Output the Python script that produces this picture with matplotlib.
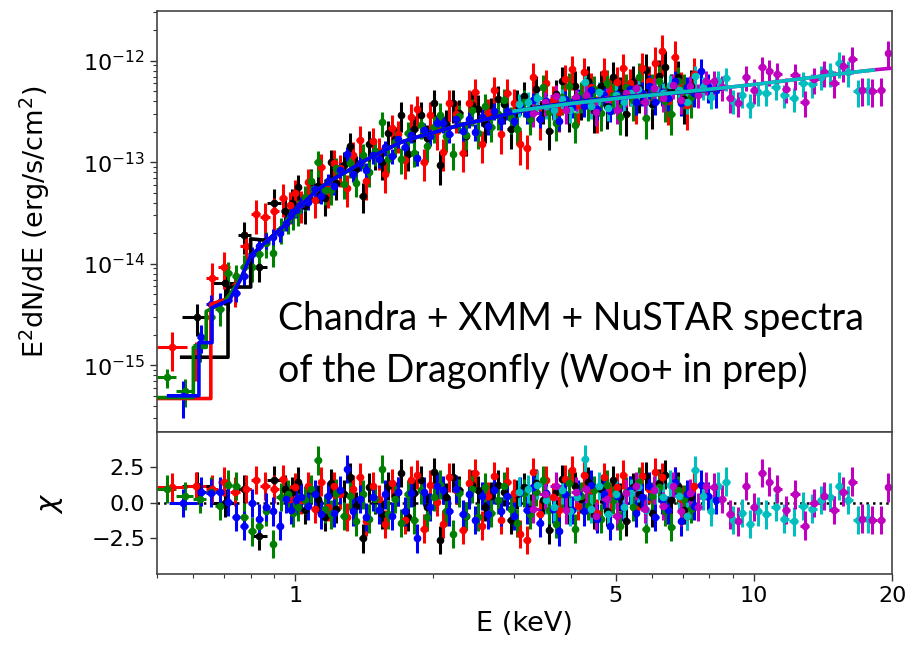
import numpy as np
import matplotlib.pyplot as plt
from matplotlib.ticker import NullFormatter, FixedLocator

UNIT = 1e-13  # fluxes below are in units of 1e-13 erg/s/cm^2, errors in % of flux

# bin grids (keV) shared by the soft-band spectra above 1 keV
grid_a = [1.00, 1.03, 1.07, 1.10, 1.14, 1.18, 1.21, 1.25, 1.30, 1.34, 1.38, 1.43, 1.47, 1.52, 1.57,
          1.62, 1.68, 1.73, 1.79, 1.85, 1.91, 1.97, 2.04, 2.10, 2.17, 2.24, 2.32, 2.39, 2.47, 2.55,
          2.63, 2.72, 2.81, 2.90, 3.00, 3.10, 3.20, 3.30, 3.41, 3.52, 3.64, 3.76, 3.88, 4.01, 4.14,
          4.27, 4.41, 4.56, 4.71, 4.86, 5.02, 5.19, 5.36, 5.53, 5.71, 5.90, 6.10, 6.30, 6.50, 6.72,
          6.94, 7.16, 7.40]
grid_b = [1.015, 1.05, 1.085, 1.12, 1.16, 1.195, 1.235, 1.275, 1.315, 1.36, 1.405, 1.45, 1.50, 1.545,
          1.595, 1.65, 1.705, 1.76, 1.82, 1.875, 1.94, 2.00, 2.07, 2.135, 2.205, 2.28, 2.355, 2.43,
          2.51, 2.59, 2.675, 2.765, 2.855, 2.95, 3.045, 3.145, 3.25, 3.355, 3.465, 3.58, 3.70, 3.82,
          3.945, 4.075, 4.205, 4.34, 4.485, 4.635, 4.785, 4.94, 5.105, 5.275, 5.445, 5.62, 5.805,
          6.00, 6.20, 6.40, 6.61, 6.83, 7.05, 7.28, 7.52]

# ---- black ----
black_edges = [0.566, 0.66, 0.75, 0.80, 0.87, 0.93, 0.97] + grid_a
black_flux = [0.030, 0.065, 0.19, 0.094, 0.40, 0.33, 0.40,
              0.565, 0.37, 0.64, 0.59, 0.44, 1.00, 0.63, 0.94, 1.46, 0.86,
              0.47, 1.52, 1.25, 1.00, 1.94, 1.69, 2.95, 1.22, 2.14, 2.95,
              1.72, 3.80, 0.94, 2.41, 3.82, 3.04, 1.82, 3.67, 3.35, 2.40,
              3.17, 4.19, 3.72, 2.13, 3.78, 4.52, 2.98, 5.24, 3.73, 2.05,
              4.67, 6.28, 3.30, 5.61, 4.36, 6.37, 3.25, 5.64, 3.56, 6.97,
              4.93, 3.01, 6.24, 5.46, 8.14, 3.77, 7.14, 8.66, 5.11, 6.98,
              4.24, 5.64]
black_err = [35, 40, 35, 30, 35, 35, 35,
             33, 33, 33, 33, 33, 33, 33, 33, 33, 33,
             33, 33, 33, 33, 33, 33, 33, 33, 33, 33,
             36, 36, 36, 36, 36, 36, 36, 36, 36, 36,
             36, 36, 36, 36, 36, 36, 36, 36, 36, 36,
             40, 40, 40, 40, 40, 40, 40, 40, 40, 40,
             40, 40, 44, 44, 44, 44, 44, 44, 44, 44,
             44, 44]
black_chi = [1.2, 0.0, 1.0, -2.3, 1.6, 1.0, 0.8,
             1.5, -0.5, 0.9, 0.3, -1.0, 1.4, -0.4, 0.6, 1.8, -0.2,
             -2.5, 1.1, 0.2, -0.8, 1.2, 0.5, 2.1, -1.0, 0.7, 1.6,
             -0.3, 2.2, -2.6, 0.4, 1.8, 0.9, -0.9, 1.3, 0.9, -0.3,
             0.5, 1.3, 0.8, -1.2, 0.6, 1.1, -0.4, 1.4, 0.2, -1.9,
             0.8, 1.7, -0.5, 1.2, 0.3, 1.5, -0.8, 1.0, -0.6, 1.6,
             0.4, -1.3, 1.1, 0.6, 1.9, -0.7, 1.4, 2.0, 0.2, 1.2,
             -0.5, 0.4]

# ---- red ----
red_edges = [0.50, 0.58, 0.64, 0.68, 0.72, 0.76, 0.80, 0.84, 0.88, 0.92, 0.96, 0.985] + grid_b
red_flux = [0.015, 0.012, 0.073, 0.094, 0.060, 0.15, 0.31, 0.29, 0.33, 0.45, 0.38, 0.50,
            0.385, 0.64, 0.43, 0.89, 0.55, 0.98, 0.87, 0.56, 1.18, 1.67,
            0.65, 1.62, 1.30, 0.77, 2.16, 1.90, 1.05, 2.81, 3.36, 1.00,
            2.91, 2.03, 1.25, 3.86, 3.00, 1.23, 3.82, 4.96, 1.51, 3.12,
            5.11, 1.90, 4.81, 3.83, 1.51, 1.37, 6.93, 2.66, 5.98, 4.10,
            3.13, 6.58, 8.22, 3.68, 7.72, 5.48, 3.25, 7.57, 4.83, 6.19,
            8.41, 5.98, 3.95, 8.51, 6.39, 9.63, 12.5, 4.05, 11.0, 5.37,
            3.65, 7.44]
red_err = [42, 42, 40, 40, 38, 38, 36, 36, 36, 36, 35, 35,
           35, 35, 35, 35, 35, 35, 35, 35, 35, 35,
           35, 35, 35, 35, 35, 35, 35, 35, 35, 35,
           35, 35, 35, 35, 35, 35, 35, 35, 35, 35,
           37, 37, 37, 37, 37, 37, 37, 37, 37, 37,
           37, 37, 37, 37, 37, 40, 40, 40, 40, 40,
           40, 40, 40, 40, 40, 43, 43, 43, 43, 43,
           43, 43]
red_chi = [1.1, 1.2, 1.0, 1.5, 0.8, 1.0, 1.6, 1.2, 1.0, 1.7, 0.3, 1.1,
           0.2, 1.2, -0.4, 1.5, -0.3, 1.2, 0.6, -1.0, 1.0, 1.8,
           -1.3, 1.2, 0.3, -1.5, 1.4, 0.8, -1.2, 1.6, 2.0, -1.8,
           1.3, 0.1, -1.5, 1.8, 0.9, -1.9, 1.4, 2.1, -1.6, 0.5,
           1.9, -1.2, 1.5, 0.7, -2.2, -2.6, 2.2, -0.8, 1.6, 0.4,
           -0.5, 1.7, 2.3, -0.2, 2.0, 0.9, -0.7, 1.8, 0.4, 1.1,
           2.0, 0.9, -0.4, 1.9, 1.0, 2.2, 1.8, -0.5, 1.5, 0.3,
           -0.9, 1.2]

# ---- green ----
green_edges = [0.50, 0.55, 0.60, 0.64, 0.67, 0.70, 0.73, 0.76, 0.79, 0.82, 0.85, 0.88, 0.91,
               0.95, 0.975] + grid_a
green_flux = [0.0076, 0.0056, 0.016, 0.030, 0.036, 0.081, 0.075, 0.094, 0.092, 0.125,
              0.160, 0.128, 0.22, 0.27, 0.30,
              0.33, 0.46, 0.65, 1.00, 0.53, 0.53, 0.87, 0.61, 0.98, 0.63,
              1.18, 0.80, 1.29, 2.47, 1.09, 1.59, 1.07, 1.95, 1.24, 2.35,
              1.44, 2.21, 2.95, 1.81, 1.20, 2.83, 1.87, 3.27, 1.95, 3.59,
              2.24, 3.00, 4.10, 2.71, 2.14, 3.97, 2.68, 4.31, 5.53, 3.13,
              2.43, 4.44, 5.68, 2.35, 4.60, 3.86, 5.31, 3.05, 6.11, 4.56,
              2.79, 5.54, 4.13, 6.92, 2.76, 5.35, 6.39, 4.05, 2.99, 6.30,
              5.37, 4.44]
green_err = [22, 30, 32, 32, 32, 30, 30, 30, 28, 28, 28, 28, 28, 28, 28,
             28, 28, 28, 28, 28, 28, 28, 28, 28, 28,
             28, 28, 28, 28, 28, 28, 28, 28, 28, 28,
             30, 30, 30, 30, 30, 30, 30, 30, 30, 30,
             30, 30, 30, 30, 30, 30, 30, 30, 30, 30,
             34, 34, 34, 34, 34, 34, 34, 34, 34, 34,
             34, 34, 38, 38, 38, 38, 38, 38, 38, 38,
             38, 38]
green_chi = [1.0, 0.5, 0.3, 0.8, -0.2, 1.3, 1.2, -1.0, -2.0, -1.6, -0.6, -2.9, 0.4, 0.6, -0.7,
             -0.3, 0.2, 1.0, 3.0, -0.4, -0.8, 0.7, -0.9, 0.5, -1.3,
             0.6, -1.1, 0.3, 2.4, -0.8, 0.3, -1.4, 0.6, -1.2, 0.9,
             -1.0, 0.4, 1.3, -0.6, -2.2, 0.7, -0.9, 1.0, -1.0, 1.1,
             -0.7, 0.2, 1.2, -0.4, -1.4, 0.7, -0.8, 0.8, 1.6, -0.5,
             -1.5, 0.6, 1.4, -1.8, 0.5, -0.2, 0.9, -1.1, 1.3, 0.2,
             -1.6, 0.8, -0.3, 1.5, -1.8, 0.5, 1.1, -0.6, -1.7, 0.9,
             0.3, -0.4]

# ---- blue ----
blue_edges = [0.53, 0.61, 0.64, 0.67, 0.70, 0.73, 0.76, 0.79, 0.82, 0.85, 0.88, 0.91, 0.94,
              0.97, 0.99] + grid_b + [7.80, 8.10, 8.40]
blue_flux = [0.0050, 0.019, 0.040, 0.042, 0.044, 0.052, 0.075, 0.125, 0.150, 0.170,
             0.185, 0.200, 0.255, 0.305, 0.34,
             0.385, 0.41, 0.54, 0.47, 0.65, 0.58, 0.84, 1.20, 0.77, 0.98,
             0.84, 1.17, 1.07, 1.40, 1.16, 1.68, 1.41, 1.86, 1.11, 2.09,
             1.80, 2.44, 2.42, 1.92, 2.66, 2.02, 2.66, 2.01, 2.79, 2.30,
             3.22, 2.55, 3.19, 2.58, 3.62, 2.96, 4.09, 2.69, 3.98, 3.35,
             2.58, 4.17, 3.49, 4.35, 3.60, 5.12, 3.38, 4.64, 3.18, 4.69,
             4.14, 5.23, 3.95, 4.87, 5.70, 3.91, 4.89, 4.33, 6.31, 3.86,
             5.47, 4.79,
             8.0, 5.6, 5.2]
blue_err = [40, 30, 24, 22, 22, 20, 20, 18, 18, 18, 18, 18, 17, 17, 17,
            17, 17, 17, 17, 17, 17, 17, 17, 17, 17,
            17, 17, 17, 17, 17, 17, 17, 17, 17, 17,
            19, 19, 19, 19, 19, 19, 19, 19, 19, 19,
            19, 19, 19, 19, 19, 19, 19, 19, 19, 19,
            22, 22, 22, 22, 22, 22, 22, 22, 22, 22,
            22, 22, 26, 26, 26, 26, 26, 26, 26, 26,
            26, 26,
            30, 32, 34]
blue_chi = [0.0, 0.8, 0.7, 0.8, 0.1, -1.0, -1.6, 0.0, -1.1, -0.3, -0.6, -1.6, 0.3, -0.5, 0.2,
            0.4, -0.2, 0.6, -0.8, 0.5, -0.7, 0.9, 2.4, -0.6, 0.3,
            -1.0, 0.4, -0.5, 0.6, -0.9, 0.8, -0.6, 0.7, -2.5, 0.8,
            -0.3, 1.2, 0.9, -0.6, 1.0, -0.8, 0.6, -1.2, 0.5, -0.8,
            0.9, -0.6, 0.5, -0.9, 0.8, -0.5, 1.1, -1.4, 0.7, -0.4,
            -2.0, 0.6, -0.5, 0.6, -0.6, 1.3, -1.1, 0.6, -1.6, 0.5,
            -0.3, 0.9, -0.7, 0.4, 1.2, -1.0, 0.2, -0.5, 1.5, -1.3,
            0.6, -0.2,
            1.3, 0.5, 0.2]

# ---- cyan ----
cyan_edges = [3.0, 3.15, 3.3, 3.45, 3.6, 3.75, 3.9, 4.05, 4.2, 4.35, 4.5, 4.7, 4.9, 5.1, 5.3,
              5.5, 5.7, 5.95, 6.2, 6.45, 6.7, 7.0, 7.3, 7.6, 7.9, 8.2, 8.5, 8.85, 9.2, 9.6,
              10.0, 10.4, 10.9, 11.4, 11.9, 12.5, 13.1, 13.7, 14.3, 15.0, 15.7, 16.4, 17.3, 18.2]
cyan_flux = [3.75, 3.95, 4.30, 3.60, 3.30, 4.25, 3.25, 4.05, 6.20, 3.55,
             4.90, 3.40, 4.60, 3.90, 4.80, 5.25, 3.90, 5.25, 4.85, 5.80,
             5.15, 3.95, 7.10, 5.50, 4.45, 6.40, 6.80, 4.05, 4.60, 3.70,
             4.90, 4.80, 5.50, 4.60, 4.30, 6.05, 5.90, 7.00, 7.55, 9.50,
             7.70, 5.00, 5.20]
cyan_err = [25, 25, 25, 25, 25, 25, 25, 25, 25, 25,
            25, 25, 25, 25, 25, 25, 25, 25, 25, 25,
            25, 25, 25, 25, 25, 25, 25, 26, 26, 26,
            26, 26, 26, 26, 27, 27, 27, 27, 27, 28,
            28, 30, 30]
cyan_chi = [0.8, 1.0, 1.3, 0.2, -0.3, 0.9, -0.6, 0.4, 3.1, -0.4,
            1.2, -0.8, 0.6, -0.3, 0.7, 1.1, -0.5, 0.9, 0.4, 1.3,
            0.5, -0.9, 2.3, 0.5, -0.6, 1.2, 1.5, -1.2, -0.7, -1.5,
            -0.6, -0.8, -0.3, -1.1, -1.3, -0.2, -0.4, 0.2, 0.4, 1.2,
            0.2, -1.2, -1.1]

# ---- magenta ----
mag_edges = [3.2, 3.4, 3.6, 3.8, 4.0, 4.2, 4.4, 4.65, 4.9, 5.15, 5.4, 5.65, 5.9, 6.2, 6.5,
             6.8, 7.1, 7.4, 7.7, 8.0, 8.35, 8.7, 9.05, 9.4, 9.8, 10.2, 10.6, 11.0, 11.5, 12.0,
             12.6, 13.2, 13.9, 14.6, 15.3, 16.0, 16.8, 17.6, 18.5, 19.3, 19.9]
mag_flux = [3.05, 3.90, 4.50, 3.25, 4.40, 4.65, 3.15, 4.25, 3.30, 4.80,
            5.40, 3.95, 5.35, 4.30, 5.80, 4.10, 5.60, 4.65, 6.30, 6.30,
            5.55, 4.30, 3.85, 7.00, 5.20, 8.60, 7.90, 7.40, 5.30, 7.20,
            3.90, 6.60, 7.70, 6.10, 8.80, 10.5, 5.20, 5.10, 5.20, 12.0]
mag_err = [27, 27, 27, 27, 27, 27, 27, 27, 27, 27,
           27, 27, 27, 27, 27, 27, 27, 27, 27, 27,
           27, 28, 28, 28, 28, 28, 28, 28, 28, 29,
           29, 29, 29, 29, 30, 30, 31, 31, 31, 31]
mag_chi = [-0.4, 0.6, 1.2, -0.5, 0.8, 1.0, -0.9, 0.3, -0.9, 0.7,
           1.2, -0.4, 0.9, -0.2, 1.2, -0.6, 0.7, -0.3, 1.2, 1.1,
           0.3, -0.8, -1.3, 1.2, -0.3, 2.1, 1.5, 1.0, -0.5, 0.6,
           -1.6, 0.0, 0.5, -0.5, 0.8, 1.5, -1.1, -1.2, -1.2, 1.1]

# ---- model curves (same units) ----
soft_mod_e = [0.76, 0.80, 0.87, 0.94, 1.02, 1.11, 1.2, 1.3, 1.43, 1.56, 1.69, 1.85, 2.0,
              2.3, 2.6, 3.0, 3.4, 4.2, 5.2, 6.6, 8.4]
soft_mod_f = [0.07, 0.12, 0.17, 0.23, 0.36, 0.52, 0.67, 0.82, 1.06, 1.30, 1.56, 1.78, 1.96,
              2.35, 2.65, 3.1, 3.5, 4.0, 4.4, 4.8, 5.25]
black_mod_e = [0.566, 0.714, 0.714, 0.80, 0.80] + soft_mod_e[2:]
black_mod_f = [0.012, 0.012, 0.059, 0.059, 0.176] + soft_mod_f[2:]
red_mod_e = [0.50, 0.655, 0.655, 0.72] + soft_mod_e
red_mod_f = [0.0047, 0.0047, 0.040, 0.046] + soft_mod_f
green_mod_e = [0.50, 0.60, 0.60, 0.64, 0.64, 0.70] + soft_mod_e
green_mod_f = [0.0048, 0.0048, 0.015, 0.015, 0.034, 0.042] + soft_mod_f
blue_mod_e = [0.53, 0.617, 0.617, 0.659, 0.659, 0.72] + soft_mod_e
blue_mod_f = [0.0050, 0.0050, 0.0167, 0.0167, 0.037, 0.044] + soft_mod_f
cyan_mod_e = [3.0, 3.5, 4.0, 5.0, 6.0, 7.0, 8.0, 9.0, 10.0, 11.0, 12.0, 13.0, 14.0, 15.0, 16.0, 17.0, 18.2]
cyan_mod_f = [3.2, 3.5, 3.8, 4.25, 4.6, 4.95, 5.25, 5.55, 5.85, 6.15, 6.45, 6.75, 7.05, 7.35, 7.6, 7.85, 8.1]
mag_mod_e = [3.2, 4.0, 5.0, 6.0, 7.0, 8.0, 9.0, 10.0, 11.0, 12.0, 13.0, 14.0, 15.0, 16.0, 17.0, 18.5, 19.9]
mag_mod_f = [3.3, 3.8, 4.25, 4.6, 4.95, 5.25, 5.55, 5.85, 6.15, 6.45, 6.75, 7.05, 7.35, 7.6, 7.85, 8.2, 8.45]

# (edges, flux, err, chi, colour)
datasets = [
    (black_edges, black_flux, black_err, black_chi, 'k'),
    (red_edges, red_flux, red_err, red_chi, 'r'),
    (green_edges, green_flux, green_err, green_chi, 'g'),
    (blue_edges, blue_flux, blue_err, blue_chi, 'b'),
    (cyan_edges, cyan_flux, cyan_err, cyan_chi, 'c'),
    (mag_edges, mag_flux, mag_err, mag_chi, 'm'),
]
# models sit on top of the data; cyan drawn over magenta
models = [
    (black_mod_e, black_mod_f, 'k'),
    (red_mod_e, red_mod_f, 'r'),
    (green_mod_e, green_mod_f, 'g'),
    (blue_mod_e, blue_mod_f, 'b'),
    (mag_mod_e, mag_mod_f, 'm'),
    (cyan_mod_e, cyan_mod_f, 'c'),
]

fig = plt.figure(figsize=(9.14, 6.46), dpi=100)
ax = fig.add_axes([0.1718, 0.3313, 0.8042, 0.6517])
axr = fig.add_axes([0.1718, 0.1115, 0.8042, 0.2198], sharex=ax)

axr.axhline(0, color='k', ls=':', lw=1.8, zorder=1)

for edges, flux, err, chi, col in datasets:
    edges = np.array(edges)
    lo, hi = edges[:-1], edges[1:]
    en = np.sqrt(lo * hi)
    xerr = [en - lo, hi - en]
    f = np.array(flux) * UNIT
    ferr = f * np.array(err) / 100.0
    ax.errorbar(en, f, xerr=xerr, yerr=ferr, fmt='o', ms=4.5, color=col,
                elinewidth=2.2, capsize=0)
    axr.errorbar(en, chi, xerr=xerr, yerr=1.0, fmt='o', ms=4.5, color=col,
                 elinewidth=2.2, capsize=0)

for mod_e, mod_f, col in models:
    ax.plot(mod_e, np.array(mod_f) * UNIT, color=col, lw=2.6, zorder=3)

ax.set_xscale('log')
ax.set_yscale('log')
ax.set_xlim(0.5, 20)
ax.set_ylim(2.2e-16, 3.1e-12)
ax.yaxis.set_minor_formatter(NullFormatter())
axr.set_ylim(-5, 5)
axr.set_yticks([-2.5, 0.0, 2.5])
axr.xaxis.set_major_locator(FixedLocator([1, 5, 10, 20]))
axr.set_xticklabels(['1', '5', '10', '20'])
axr.xaxis.set_minor_formatter(NullFormatter())

ax.tick_params(axis='x', which='both', bottom=False, labelbottom=False)
for a in (ax, axr):
    a.tick_params(which='major', labelsize=16, length=5, width=1, color='#333333')
    a.tick_params(which='minor', length=3, width=0.8, color='#333333')
    for s in a.spines.values():
        s.set_color('#444444')
        s.set_linewidth(1.2)

ax.set_ylabel('E$^2$dN/dE (erg/s/cm$^2$)', fontsize=19.5)
ax.yaxis.set_label_coords(-0.143, 0.5)
axr.set_ylabel(r'$\chi$', fontsize=21)
axr.yaxis.set_label_coords(-0.125, 0.5)
axr.set_xlabel('E (keV)', fontsize=19.5)

ax.text(0.1646, 0.2423, 'Chandra + XMM + NuSTAR spectra', transform=ax.transAxes,
        fontsize=27, family='Lato', va='baseline', ha='left')
ax.text(0.1646, 0.1195, 'of the Dragonfly (Woo+ in prep)', transform=ax.transAxes,
        fontsize=27, family='Lato', va='baseline', ha='left')

fig.savefig('out.png', dpi=100)
